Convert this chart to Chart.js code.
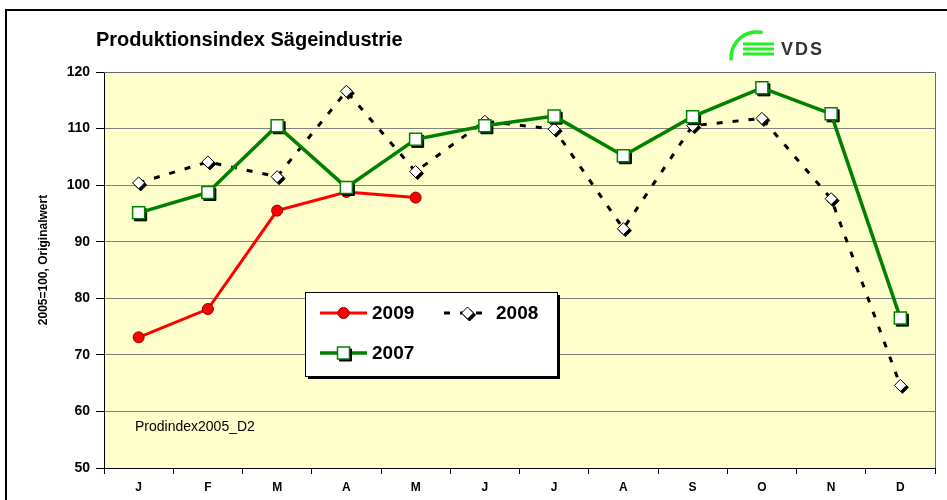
<!DOCTYPE html>
<html>
<head>
<meta charset="utf-8">
<script src="https://cdn.jsdelivr.net/npm/chart.js@4.4.3/dist/chart.umd.min.js"></script>
<style>
  html, body { margin: 0; padding: 0; background: #fff; }
  #wrap { position: relative; width: 947px; height: 500px; }
</style>
</head>
<body>
<div id="wrap"><canvas id="chart" width="947" height="500"></canvas></div>
<script>
const months = ["J", "F", "M", "A", "M", "J", "J", "A", "S", "O", "N", "D"];
const values2009 = [73.1, 78.1, 95.5, 98.8, 97.8, null, null, null, null, null, null, null];
const values2008 = [100.4, 104.1, 101.5, 116.6, 102.4, 111.3, 109.9, 92.3, 110.5, 111.8, 97.6, 64.6];
const values2007 = [95.1, 98.7, 110.5, 99.6, 108.1, 110.5, 112.2, 105.2, 112.1, 117.2, 112.6, 76.5];
const yTicks = [50, 60, 70, 80, 90, 100, 110, 120];

const plotBg = "#FFFFCC";

// frame, plot background, title, logo, note
const decorPlugin = {
  id: "decor",
  beforeDraw(chart) {
    const { ctx, chartArea: a } = chart;
    ctx.save();
    ctx.fillStyle = plotBg;
    ctx.fillRect(a.left, a.top, a.right - a.left, a.bottom - a.top);
    ctx.strokeStyle = "#000";
    ctx.lineWidth = 2;
    ctx.beginPath();
    ctx.moveTo(6, 500);
    ctx.lineTo(6, 10);
    ctx.lineTo(947, 10);
    ctx.stroke();

    ctx.fillStyle = "#000";
    ctx.font = "bold 20px Arial, 'Liberation Sans', sans-serif";
    ctx.textBaseline = "middle";
    ctx.fillText("Produktionsindex Sägeindustrie", 96, 40);

    // VDS logo
    ctx.strokeStyle = "#22EE22";
    ctx.lineWidth = 3.5;
    ctx.beginPath();
    ctx.arc(757, 58, 26, Math.PI * 0.97, Math.PI * 1.57);
    ctx.stroke();
    ctx.fillStyle = "#22EE22";
    [44, 49, 54].forEach(y => ctx.fillRect(743, y - 1.5, 31, 3));
    ctx.fillStyle = "#333";
    ctx.font = "bold 18px Arial, 'Liberation Sans', sans-serif";
    ctx.letterSpacing = "2px";
    ctx.fillText("VDS", 781, 50);
    ctx.letterSpacing = "0px";

    // y title
    ctx.save();
    ctx.translate(44, 260);
    ctx.rotate(-Math.PI / 2);
    ctx.textAlign = "center";
    ctx.fillStyle = "#000";
    ctx.font = "bold 12px Arial, 'Liberation Sans', sans-serif";
    ctx.fillText("2005=100, Originalwert", 0, 0);
    ctx.restore();

    ctx.fillStyle = "#000";
    ctx.font = "14px Arial, 'Liberation Sans', sans-serif";
    ctx.fillText("Prodindex2005_D2", 135, 427);
    ctx.restore();
  },
  afterDraw(chart) {
    const { ctx, chartArea: a } = chart;
    ctx.save();
    ctx.strokeStyle = "#666";
    ctx.lineWidth = 1;
    ctx.beginPath();
    ctx.moveTo(a.left, a.top + 0.5);
    ctx.lineTo(a.right + 0.5, a.top + 0.5);
    ctx.lineTo(a.right + 0.5, a.bottom);
    ctx.stroke();

    // legend box
    const lx = 305, ly = 292, lw = 252, lh = 84;
    ctx.fillStyle = "#000";
    ctx.fillRect(lx + 3, ly + 3, lw, lh);
    ctx.fillStyle = "#fff";
    ctx.fillRect(lx, ly, lw, lh);
    ctx.strokeStyle = "#000";
    ctx.strokeRect(lx + 0.5, ly + 0.5, lw, lh);

    const sets = chart.data.datasets;
    const items = [
      { ds: sets[0], x: 320, y: 313 },
      { ds: sets[1], x: 444, y: 313 },
      { ds: sets[2], x: 320, y: 353 }
    ];
    items.forEach(it => {
      const ds = it.ds;
      ctx.save();
      ctx.strokeStyle = ds.borderColor;
      ctx.lineWidth = ds.borderWidth;
      ctx.setLineDash(ds.borderDash || []);
      ctx.beginPath();
      ctx.moveTo(it.x, it.y);
      ctx.lineTo(it.x + 47, it.y);
      ctx.stroke();
      ctx.restore();
      if (ds.shadow) {
        ctx.fillStyle = "#000";
        ctx.strokeStyle = "#000";
        Chart.helpers.drawPoint(ctx, { pointStyle: ds.pointStyle, radius: ds.pointRadius, rotation: 0, borderWidth: 1 }, it.x + 25.5, it.y + 2);
        ctx.fill();
      }
      ctx.fillStyle = ds.pointBackgroundColor;
      ctx.strokeStyle = ds.pointBorderColor;
      ctx.lineWidth = ds.pointBorderWidth;
      Chart.helpers.drawPoint(ctx, { pointStyle: ds.pointStyle, radius: ds.pointRadius, rotation: 0, borderWidth: ds.pointBorderWidth }, it.x + 23.5, it.y);
      ctx.fillStyle = "#000";
      ctx.font = "bold 19px Arial, 'Liberation Sans', sans-serif";
      ctx.textBaseline = "middle";
      ctx.fillText(ds.label, it.x + 52, it.y + 1);
    });
    ctx.restore();
  }
};

// black drop shadow under the markers
const shadowPlugin = {
  id: "markerShadow",
  beforeDatasetDraw(chart, args) {
    const ds = chart.data.datasets[args.index];
    if (!ds.shadow) return;
    const ctx = chart.ctx;
    ctx.save();
    ctx.fillStyle = "#000";
    ctx.strokeStyle = "#000";
    args.meta.data.forEach(pt => {
      if (pt.skip) return;
      Chart.helpers.drawPoint(ctx, { pointStyle: ds.pointStyle, radius: ds.pointRadius, rotation: 0, borderWidth: 1 }, pt.x + 2, pt.y + 2);
    });
    ctx.restore();
  }
};

new Chart(document.getElementById("chart"), {
  type: "line",
  data: {
    labels: months,
    datasets: [
      {
        label: "2009",
        data: values2009,
        borderColor: "#FF0000",
        borderWidth: 3,
        pointStyle: "circle",
        pointRadius: 5.5,
        pointBackgroundColor: "#FF0000",
        pointBorderColor: "#880000",
        pointBorderWidth: 1,
        order: 2
      },
      {
        label: "2008",
        data: values2008,
        borderColor: "#000000",
        borderWidth: 3,
        borderDash: [6, 10],
        pointStyle: "rectRot",
        pointRadius: 6,
        pointBackgroundColor: "#FFFFFF",
        pointBorderColor: "#000000",
        pointBorderWidth: 1,
        shadow: true,
        order: 3
      },
      {
        label: "2007",
        data: values2007,
        borderColor: "#008000",
        borderWidth: 3.5,
        pointStyle: "rect",
        pointRadius: 8.5,
        pointBackgroundColor: "#FFFFFF",
        pointBorderColor: "#008000",
        pointBorderWidth: 1.5,
        shadow: true,
        order: 1
      }
    ]
  },
  options: {
    responsive: false,
    animation: false,
    tension: 0,
    layout: { padding: { left: 0, top: 72, right: 12, bottom: 0 } },
    plugins: { legend: { display: false }, tooltip: { enabled: false } },
    scales: {
      x: {
        offset: true,
        afterFit: s => { s.height = 32; },
        grid: { offset: true, drawOnChartArea: false, tickLength: 6, tickColor: "#000" },
        border: { color: "#000", width: 1 },
        ticks: { color: "#000", padding: 6, font: { family: "Arial, 'Liberation Sans', sans-serif", size: 12, weight: "bold" } }
      },
      y: {
        min: 50,
        max: 120,
        afterFit: s => { s.width = 104; },
        afterBuildTicks: s => { s.ticks = yTicks.map(v => ({ value: v })); },
        grid: { color: "#808080", lineWidth: 1, tickLength: 8, tickColor: "#000" },
        border: { color: "#000", width: 1 },
        ticks: { color: "#000", padding: 6, font: { family: "Arial, 'Liberation Sans', sans-serif", size: 14, weight: "bold" } }
      }
    }
  },
  plugins: [decorPlugin, shadowPlugin]
});
</script>
</body>
</html>
